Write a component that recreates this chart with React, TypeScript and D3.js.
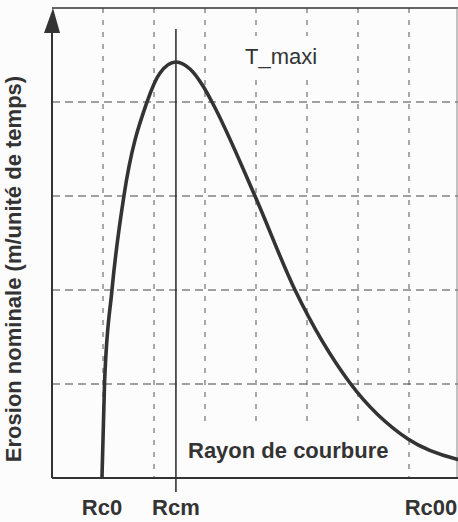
import React from "react";
import * as d3 from "d3";

const rayon = [0.98, 1.03, 1.176, 1.41, 1.863, 2.118, 2.431, 2.706, 2.961, 3.137, 3.98, 4.765, 5.843, 6.98, 7.94, 8.1];
const erosion = [0, 1.01, 2.0, 3.0, 4.0, 4.309, 4.426, 4.351, 4.17, 4.0, 3.0, 2.0, 1.011, 0.415, 0.2, 0.18];
const xGrid = [1, 2, 3, 4, 5, 6, 7, 8];
const yGrid = [1, 2, 3, 4];
const tickLabels = ["Rc0", "Rcm", "Rc00"];
const tickValues = [0.98, 2.43, 7.43];
const rcm = 2.43;

export default function App() {
  const W = 458, H = 522;
  const x = d3.scaleLinear().domain([0, 8]).range([52, 460]);
  const y = d3.scaleLinear().domain([0, 5]).range([478, 8]);
  const line = d3
    .line<number>()
    .x((_, i) => x(rayon[i]))
    .y((d) => y(d))
    .curve(d3.curveMonotoneX);
  const ink = "#333";
  const font = "'Liberation Sans', Arial, sans-serif";
  return (
    <svg width={W} height={H} style={{ position: "absolute", left: 0, top: 0, background: "#fcfcfc" }}>
      <rect x={0} y={0} width={W} height={H} fill="#fcfcfc" />
      {xGrid.map((g) => (
        <line key={"vx" + g} x1={x(g)} x2={x(g)} y1={y(5)} y2={y(0)} stroke="#555" strokeWidth={1} strokeDasharray="5,7" />
      ))}
      {yGrid.map((g) => (
        <line key={"hy" + g} x1={x(0)} x2={W} y1={y(g)} y2={y(g)} stroke="#444" strokeWidth={1.2} strokeDasharray="8,5" />
      ))}
      <rect x={240} y={36} width={82} height={44} fill="#fcfcfc" />
      <rect x={183} y={428} width={215} height={49} fill="#fcfcfc" />
      <line x1={x(0)} x2={W} y1={y(5)} y2={y(5)} stroke={ink} strokeWidth={1.5} />
      <line x1={457} x2={457} y1={y(5)} y2={y(0)} stroke="#888" strokeWidth={1} />
      <line x1={x(0)} x2={W} y1={y(0)} y2={y(0)} stroke={ink} strokeWidth={2} />
      <line x1={x(0)} x2={x(0)} y1={y(0)} y2={30} stroke={ink} strokeWidth={2} />
      <path d={`M${x(0) - 8},33 L${x(0) + 8},33 L${x(0) + 1},8 Z`} fill={ink} />
      <line x1={x(rcm)} x2={x(rcm)} y1={29} y2={492} stroke={ink} strokeWidth={1.6} />
      <path d={line(erosion) || ""} fill="none" stroke={ink} strokeWidth={3.6} strokeLinejoin="round" />
      <text x={245} y={64} fontFamily={font} fontSize={22} fill={ink}>T_maxi</text>
      <text x={188} y={458} fontFamily={font} fontSize={22} fontWeight="bold" fill={ink}>Rayon de courbure</text>
      {tickLabels.map((t, i) => (
        <text key={t} x={x(tickValues[i])} y={515} textAnchor="middle" fontFamily={font} fontSize={22} fontWeight="bold" fill={ink}>
          {t}
        </text>
      ))}
      <text
        transform={`translate(21,269) rotate(-90)`}
        textAnchor="middle"
        fontFamily={font}
        fontSize={22}
        fontWeight="bold"
        fill={ink}
      >
        Erosion nominale (m/unité de temps)
      </text>
    </svg>
  );
}
